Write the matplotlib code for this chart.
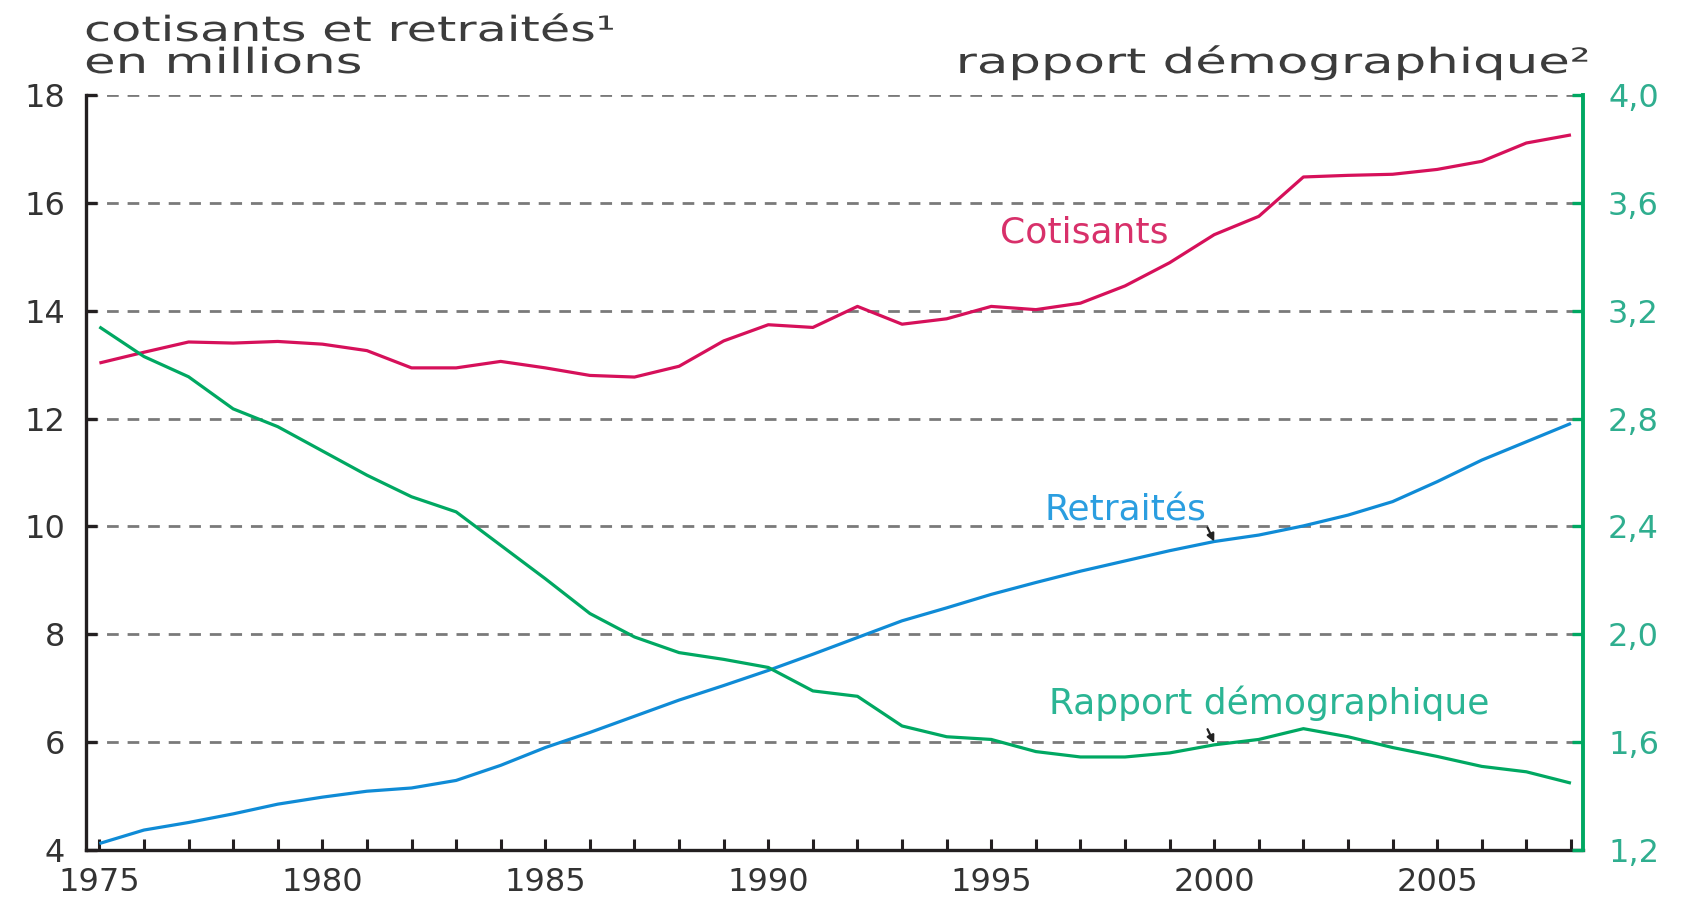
"""Cotisants, retraités et rapport démographique, 1975-2008."""

import matplotlib

matplotlib.use("Agg")
import matplotlib.pyplot as plt
from matplotlib.patheffects import AbstractPathEffect
from matplotlib.ticker import FuncFormatter, MultipleLocator
from matplotlib.transforms import Affine2D

plt.rcParams["font.family"] = ["DejaVu Sans"]

years = list(range(1975, 2009))

# millions, left axis
cotisants = [
    13.03, 13.23, 13.42, 13.40, 13.43, 13.38, 13.26, 12.94, 12.94, 13.06,
    12.94, 12.80, 12.77, 12.97, 13.44, 13.74, 13.69, 14.08, 13.75, 13.85,
    14.08, 14.02, 14.14, 14.46, 14.89, 15.41, 15.75, 16.48, 16.51, 16.53,
    16.62, 16.77, 17.11, 17.26,
]
retraites = [
    4.12, 4.37, 4.51, 4.67, 4.85, 4.98, 5.09, 5.15, 5.29, 5.57,
    5.90, 6.18, 6.48, 6.78, 7.05, 7.33, 7.63, 7.94, 8.25, 8.49,
    8.74, 8.96, 9.17, 9.36, 9.55, 9.72, 9.84, 10.01, 10.21, 10.46,
    10.83, 11.23, 11.57, 11.91,
]
# ratio, right axis
rapport = [
    3.14, 3.03, 2.955, 2.836, 2.77, 2.68, 2.59, 2.51, 2.454, 2.33,
    2.206, 2.077, 1.99, 1.932, 1.907, 1.877, 1.79, 1.77, 1.66, 1.62,
    1.61, 1.565, 1.545, 1.545, 1.56, 1.59, 1.61, 1.65, 1.62, 1.58,
    1.547, 1.51, 1.49, 1.448,
]

left_ticks = [4, 6, 8, 10, 12, 14, 16, 18]
right_ticks = [1.2, 1.6, 2.0, 2.4, 2.8, 3.2, 3.6, 4.0]
year_labels = [1975, 1980, 1985, 1990, 1995, 2000, 2005]

RED = "#d6105a"
BLUE = "#0f8bd6"
GREEN = "#00a862"
INK = "#333333"


class StretchX(AbstractPathEffect):
    """Widen glyphs horizontally about a fixed x (display pixels)."""

    def __init__(self, sx, x0):
        super().__init__()
        self._sx, self._x0 = sx, x0

    def draw_path(self, renderer, gc, tpath, affine, rgbFace=None):
        wide = Affine2D().translate(-self._x0, 0).scale(self._sx, 1).translate(self._x0, 0)
        renderer.draw_path(gc, tpath, affine + wide, rgbFace)


fig = plt.figure(figsize=(16.88, 9), dpi=100)
ax = fig.add_axes([86 / 1688, 50 / 900, 1497 / 1688, 755 / 900])
ax2 = ax.twinx()

ax.plot(years, cotisants, color=RED, lw=2.3, solid_capstyle="butt", zorder=3)
ax.plot(years, retraites, color=BLUE, lw=2.3, solid_capstyle="butt", zorder=3)
ax2.plot(years, rapport, color=GREEN, lw=2.3, solid_capstyle="butt", zorder=3)

ax.set_xlim(1974.7, 2008.27)
ax.set_ylim(4, 18)
ax2.set_ylim(1.2, 4.0)

ax.set_yticks(left_ticks)
ax.set_yticklabels([str(v) for v in left_ticks])
ax.set_xticks(year_labels)
ax.xaxis.set_minor_locator(MultipleLocator(1))
ax2.set_yticks(right_ticks)
ax2.yaxis.set_major_formatter(FuncFormatter(lambda v, _: f"{v:.1f}".replace(".", ",")))

for t in left_ticks[1:]:
    ax.axhline(t, color="#7a7a7a", lw=2.0, ls=(0, (4.2, 3.2)), zorder=1)

for s in ("top", "right"):
    ax.spines[s].set_visible(False)
for s in ("top", "left", "bottom"):
    ax2.spines[s].set_visible(False)
ax.spines["left"].set_color("#231f20")
ax.spines["left"].set_linewidth(2.4)
ax.spines["bottom"].set_color("#231f20")
ax.spines["bottom"].set_linewidth(2.4)
ax2.spines["right"].set_color(GREEN)
ax2.spines["right"].set_linewidth(2.8)

ax.tick_params(axis="y", direction="in", length=8, width=2.4, color="#231f20",
               labelsize=23, labelcolor=INK, pad=15)
ax.tick_params(axis="x", which="both", direction="in", length=8, width=2.2,
               color="#231f20", labelsize=23, labelcolor=INK, pad=12)
ax2.tick_params(axis="y", direction="in", length=8, width=2.4, color=GREEN,
                labelsize=23, labelcolor="#2fae8f", pad=18)

ax.text(1995.2, 15.45, "Cotisants", color="#d8306a", fontsize=26, va="center")
ax.text(1996.2, 10.3, "Retraités", color="#2b9ee0", fontsize=26, va="center")
ax.text(1996.3, 6.72, "Rapport démographique", color="#2bb594", fontsize=26,
        va="center")

for xy, xytext in (((2000, 9.72), (1999.85, 9.98)), ((2000, 5.98), (1999.85, 6.24))):
    ax.annotate("", xy=xy, xytext=xytext,
                arrowprops=dict(arrowstyle="-|>", color="#222222", lw=1.6,
                                mutation_scale=11, shrinkA=0, shrinkB=0))

head = dict(fontsize=25, color="#3c3c3c", va="baseline")
fig.text(84 / 1688, 1 - 41 / 900, "cotisants et retraités¹",
         path_effects=[StretchX(1.42, 84)], **head)
fig.text(84 / 1688, 1 - 73 / 900, "en millions",
         path_effects=[StretchX(1.48, 84)], **head)
fig.text(1591 / 1688, 1 - 73 / 900, "rapport démographique²", ha="right",
         path_effects=[StretchX(1.48, 1591)], **head)

fig.savefig("out.png", dpi=100)
